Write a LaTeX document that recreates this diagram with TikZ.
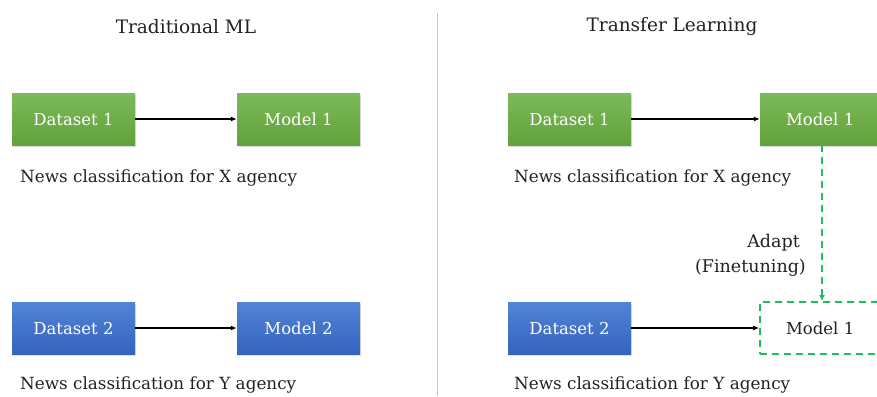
\documentclass[tikz,border=0pt]{standalone}
\usepackage{fontspec}
\setmainfont{DejaVu Serif}
\usetikzlibrary{arrows.meta,shadows}
\definecolor{gtop}{HTML}{7DB95B}
\definecolor{gbot}{HTML}{62A23A}
\definecolor{btop}{HTML}{5284D6}
\definecolor{bbot}{HTML}{3563BE}
\definecolor{dgreen}{HTML}{1DBF5A}
\definecolor{txt}{HTML}{222222}
\begin{document}
\begin{tikzpicture}[x=1pt,y=-1pt,
  gbox/.style={rectangle,minimum width=123pt,minimum height=52pt,inner sep=0pt,
    top color=gtop,bottom color=gbot,draw=none,text=white,font=\fontsize{16.5}{18}\selectfont,
    drop shadow={shadow xshift=1pt,shadow yshift=-1.5pt,opacity=0.25}},
  bbox/.style={gbox,top color=btop,bottom color=bbot},
  dbox/.style={rectangle,minimum width=123pt,minimum height=52pt,inner sep=0pt,
    draw=dgreen,dash pattern=on 7pt off 5pt,line width=1.6pt,fill=white,text=txt,
    font=\fontsize{16.5}{18}\selectfont},
  caption/.style={anchor=west,inner sep=0pt,text=txt,font=\fontsize{16.8}{19}\selectfont},
  title/.style={inner sep=0pt,text=txt,font=\fontsize{18.5}{20}\selectfont},
  lbl/.style={inner sep=0pt,anchor=east,text=txt,font=\fontsize{17.5}{19}\selectfont},
  conn/.style={-{Latex[length=6pt,width=5pt]},line width=1.3pt,black}]
\useasboundingbox (0,0) rectangle (877,396);
\clip (0,0) rectangle (877,396);
% divider
\coordinate (dt) at (437,13);
\coordinate (db) at (437,396);
\draw[line width=1pt,black!22] (dt) -- (db);
% titles
\node[title] (t1) at (186,27) {Traditional ML};
\node[title] (t2) at (672,27) {Transfer Learning};
% left side
\node[gbox] (ld1) at (73.5,119) {Dataset 1};
\node[gbox] (lm1) at (298.5,119) {Model 1};
\draw[conn] (ld1) -- (lm1);
\node[caption] (lc1) at (20,178) {News classification for X agency};
\node[bbox] (ld2) at (73.5,328) {Dataset 2};
\node[bbox] (lm2) at (298.5,328) {Model 2};
\draw[conn] (ld2) -- (lm2);
\node[caption] (lc2) at (20,385) {News classification for Y agency};
% right side
\node[gbox] (rd1) at (569.5,119) {Dataset 1};
\node[gbox,text width=123pt,align=left] (rm1) at (821.5,119) {\hspace*{26pt}Model 1};
\draw[conn] (rd1) -- (rm1.west);
\node[caption] (rc1) at (514,178) {News classification for X agency};
\node[bbox] (rd2) at (569.5,328) {Dataset 2};
\node[dbox,text width=123pt,align=left] (rm2) at (821.5,328) {\hspace*{26pt}Model 1};
\draw[conn] (rd2) -- (rm2.west);
\node[caption] (rc2) at (514,385) {News classification for Y agency};
% adapt
\coordinate (as) at (822,145);
\coordinate (ae) at (822,301);
\draw[dgreen,line width=1.6pt,dash pattern=on 7pt off 5pt,-{Latex[length=6pt,width=6pt]}] (as) -- (ae);
\node[lbl] (ad) at (800,243) {Adapt};
\node[lbl] (ft) at (806,268) {(Finetuning)};
\end{tikzpicture}
\end{document}
